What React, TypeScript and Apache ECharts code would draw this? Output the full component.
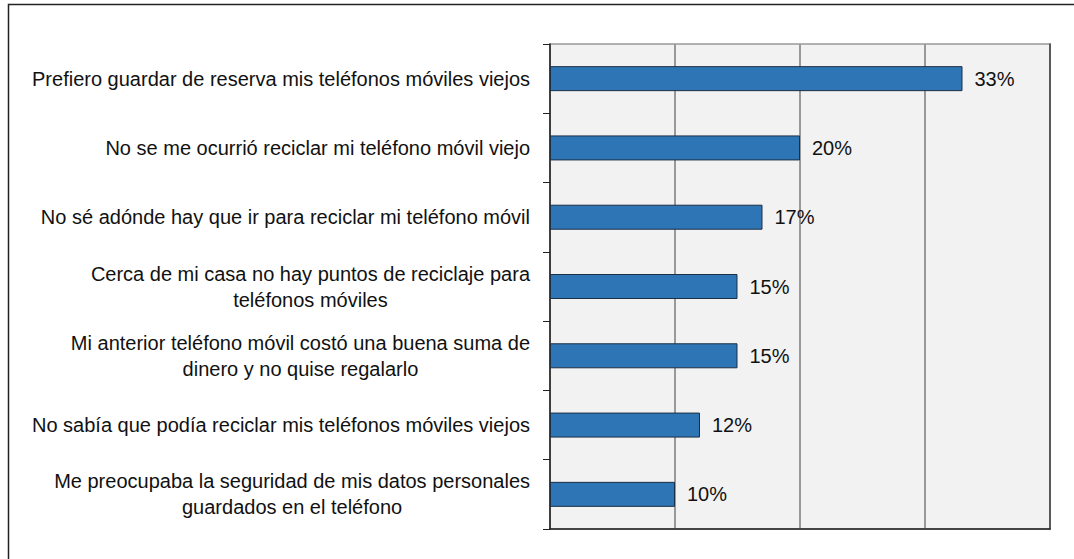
import React, { useEffect, useRef } from "react";
import * as echarts from "echarts";

const categories = [
  "Prefiero guardar de reserva mis teléfonos móviles viejos",
  "No se me ocurrió reciclar mi teléfono móvil viejo",
  "No sé adónde hay que ir para reciclar mi teléfono móvil",
  "Cerca de mi casa no hay puntos de reciclaje para\nteléfonos móviles",
  "Mi anterior teléfono móvil costó una buena suma de\ndinero y no quise regalarlo",
  "No sabía que podía reciclar mis teléfonos móviles viejos",
  "Me preocupaba la seguridad de mis datos personales\nguardados en el teléfono",
];
const values = [33, 20, 17, 15, 15, 12, 10];

export default function App() {
  const ref = useRef<HTMLDivElement>(null);
  useEffect(() => {
    if (!ref.current) return;
    const chart = echarts.init(ref.current, null, { renderer: "svg" });
    const font = "'Liberation Sans', Arial, sans-serif";
    chart.setOption({
      animation: false,
      textStyle: { fontFamily: font },
      graphic: [
        {
          type: "rect",
          shape: { x: 8.5, y: 4.5, width: 1070, height: 570 },
          style: { fill: "none", stroke: "#222", lineWidth: 1.5 },
          silent: true,
        },
      ],
      grid: {
        left: 550,
        top: 44,
        right: 24,
        bottom: 30,
        outerBoundsMode: "none",
        show: true,
        backgroundColor: "#f2f2f2",
        borderColor: "#999",
        borderWidth: 1.5,
      },
      xAxis: {
        type: "value",
        min: 0,
        max: 40,
        interval: 10,
        axisLabel: { show: false },
        axisTick: { show: false },
        axisLine: { show: true, lineStyle: { color: "#222", width: 1.5 } },
        splitLine: { show: true, lineStyle: { color: "#999", width: 2 } },
      },
      yAxis: [
        {
          type: "category",
          data: categories,
          inverse: true,
          axisLine: { show: true, lineStyle: { color: "#222", width: 1.5 } },
          axisTick: { show: true, length: 7, lineStyle: { color: "#222" } },
          axisLabel: {
            margin: 20,
            color: "#111",
            fontSize: 20,
            fontFamily: font,
            lineHeight: 26,
            formatter: (v: string) =>
              v
                .split("\n")
                .map((l) => `{c|${l}}`)
                .join("\n"),
            rich: {
              c: { align: "center", fontSize: 20, lineHeight: 26, color: "#111", fontFamily: font },
            },
          },
        },
        {
          type: "category",
          data: categories,
          inverse: true,
          position: "right",
          axisLine: { show: true, lineStyle: { color: "#444", width: 1.5 } },
          axisTick: { show: false },
          axisLabel: { show: false },
        },
      ],
      series: [
        {
          type: "bar",
          data: values,
          barWidth: 25,
          itemStyle: { color: "#2e75b6", borderColor: "#1c2f44", borderWidth: 1 },
          label: {
            show: true,
            position: "right",
            distance: 12,
            formatter: "{c}%",
            color: "#111",
            fontSize: 20,
            fontFamily: font,
          },
        },
      ],
    });
    return () => chart.dispose();
  }, []);
  return (
    <div
      ref={ref}
      style={{ position: "fixed", left: 0, top: 0, width: 1074, height: 559, background: "#fff" }}
    />
  );
}
